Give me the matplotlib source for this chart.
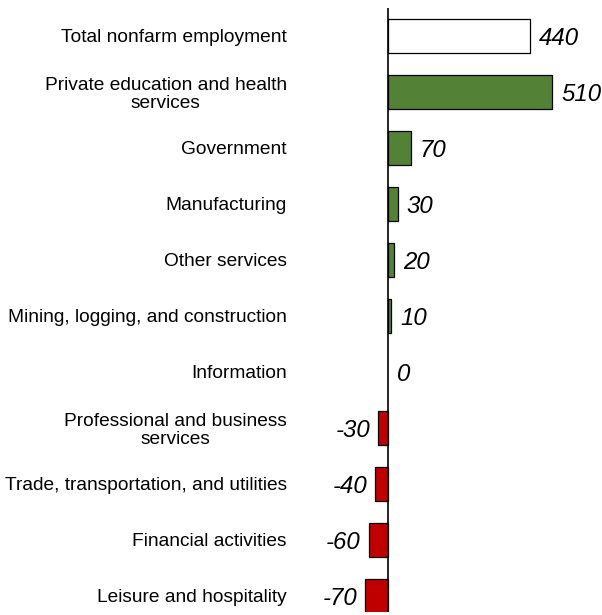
import matplotlib
matplotlib.use("Agg")
import matplotlib.pyplot as plt

categories = [
    "Total nonfarm employment",
    "Private education and health\nservices",
    "Government",
    "Manufacturing",
    "Other services",
    "Mining, logging, and construction",
    "Information",
    "Professional and business\nservices",
    "Trade, transportation, and utilities",
    "Financial activities",
    "Leisure and hospitality",
]
values = [440, 510, 70, 30, 20, 10, 0, -30, -40, -60, -70]

plt.rcParams['font.family'] = ['Liberation Sans', 'DejaVu Sans']

W, H = 602, 615
fig = plt.figure(figsize=(W / 100, H / 100), dpi=100)
ax_left, ax_right = 300, 602
ax_top, ax_bot = 8, 612
ax = fig.add_axes([ax_left / W, 1 - ax_bot / H, (ax_right - ax_left) / W, (ax_bot - ax_top) / H])

scale = 0.3225  # px per unit
zero_px = 388
ax.set_xlim(-(zero_px - ax_left) / scale, (ax_right - zero_px) / scale)
ax.set_ylim(10.286, -0.5)

colors = []
for i, v in enumerate(values):
    if i == 0:
        colors.append('white')
    elif v >= 0:
        colors.append('#538135')
    else:
        colors.append('#C00000')
lws = [0.9 if v != 0 else 0 for v in values]

ys = list(range(len(categories)))
ax.barh(ys, values, height=0.6, color=colors, edgecolor='black', linewidth=lws, zorder=2)
ax.axvline(0, color='black', linewidth=1.2, zorder=3)

for y, v in zip(ys, values):
    if v >= 0:
        ax.text(v + 9 / scale, y + 0.05, f"{v}", ha='left', va='center', fontsize=17.3, style='italic')
    else:
        ax.text(v - 8 / scale, y + 0.05, f"{v}", ha='right', va='center', fontsize=17.3, style='italic')

ax.set_yticks(ys)
ax.set_yticklabels(categories, fontsize=13.8, multialignment='center', linespacing=1.1)
ax.tick_params(axis='y', length=0, pad=9.5)
ax.set_xticks([])
for s in ax.spines.values():
    s.set_visible(False)

fig.savefig("out.png", dpi=100)
